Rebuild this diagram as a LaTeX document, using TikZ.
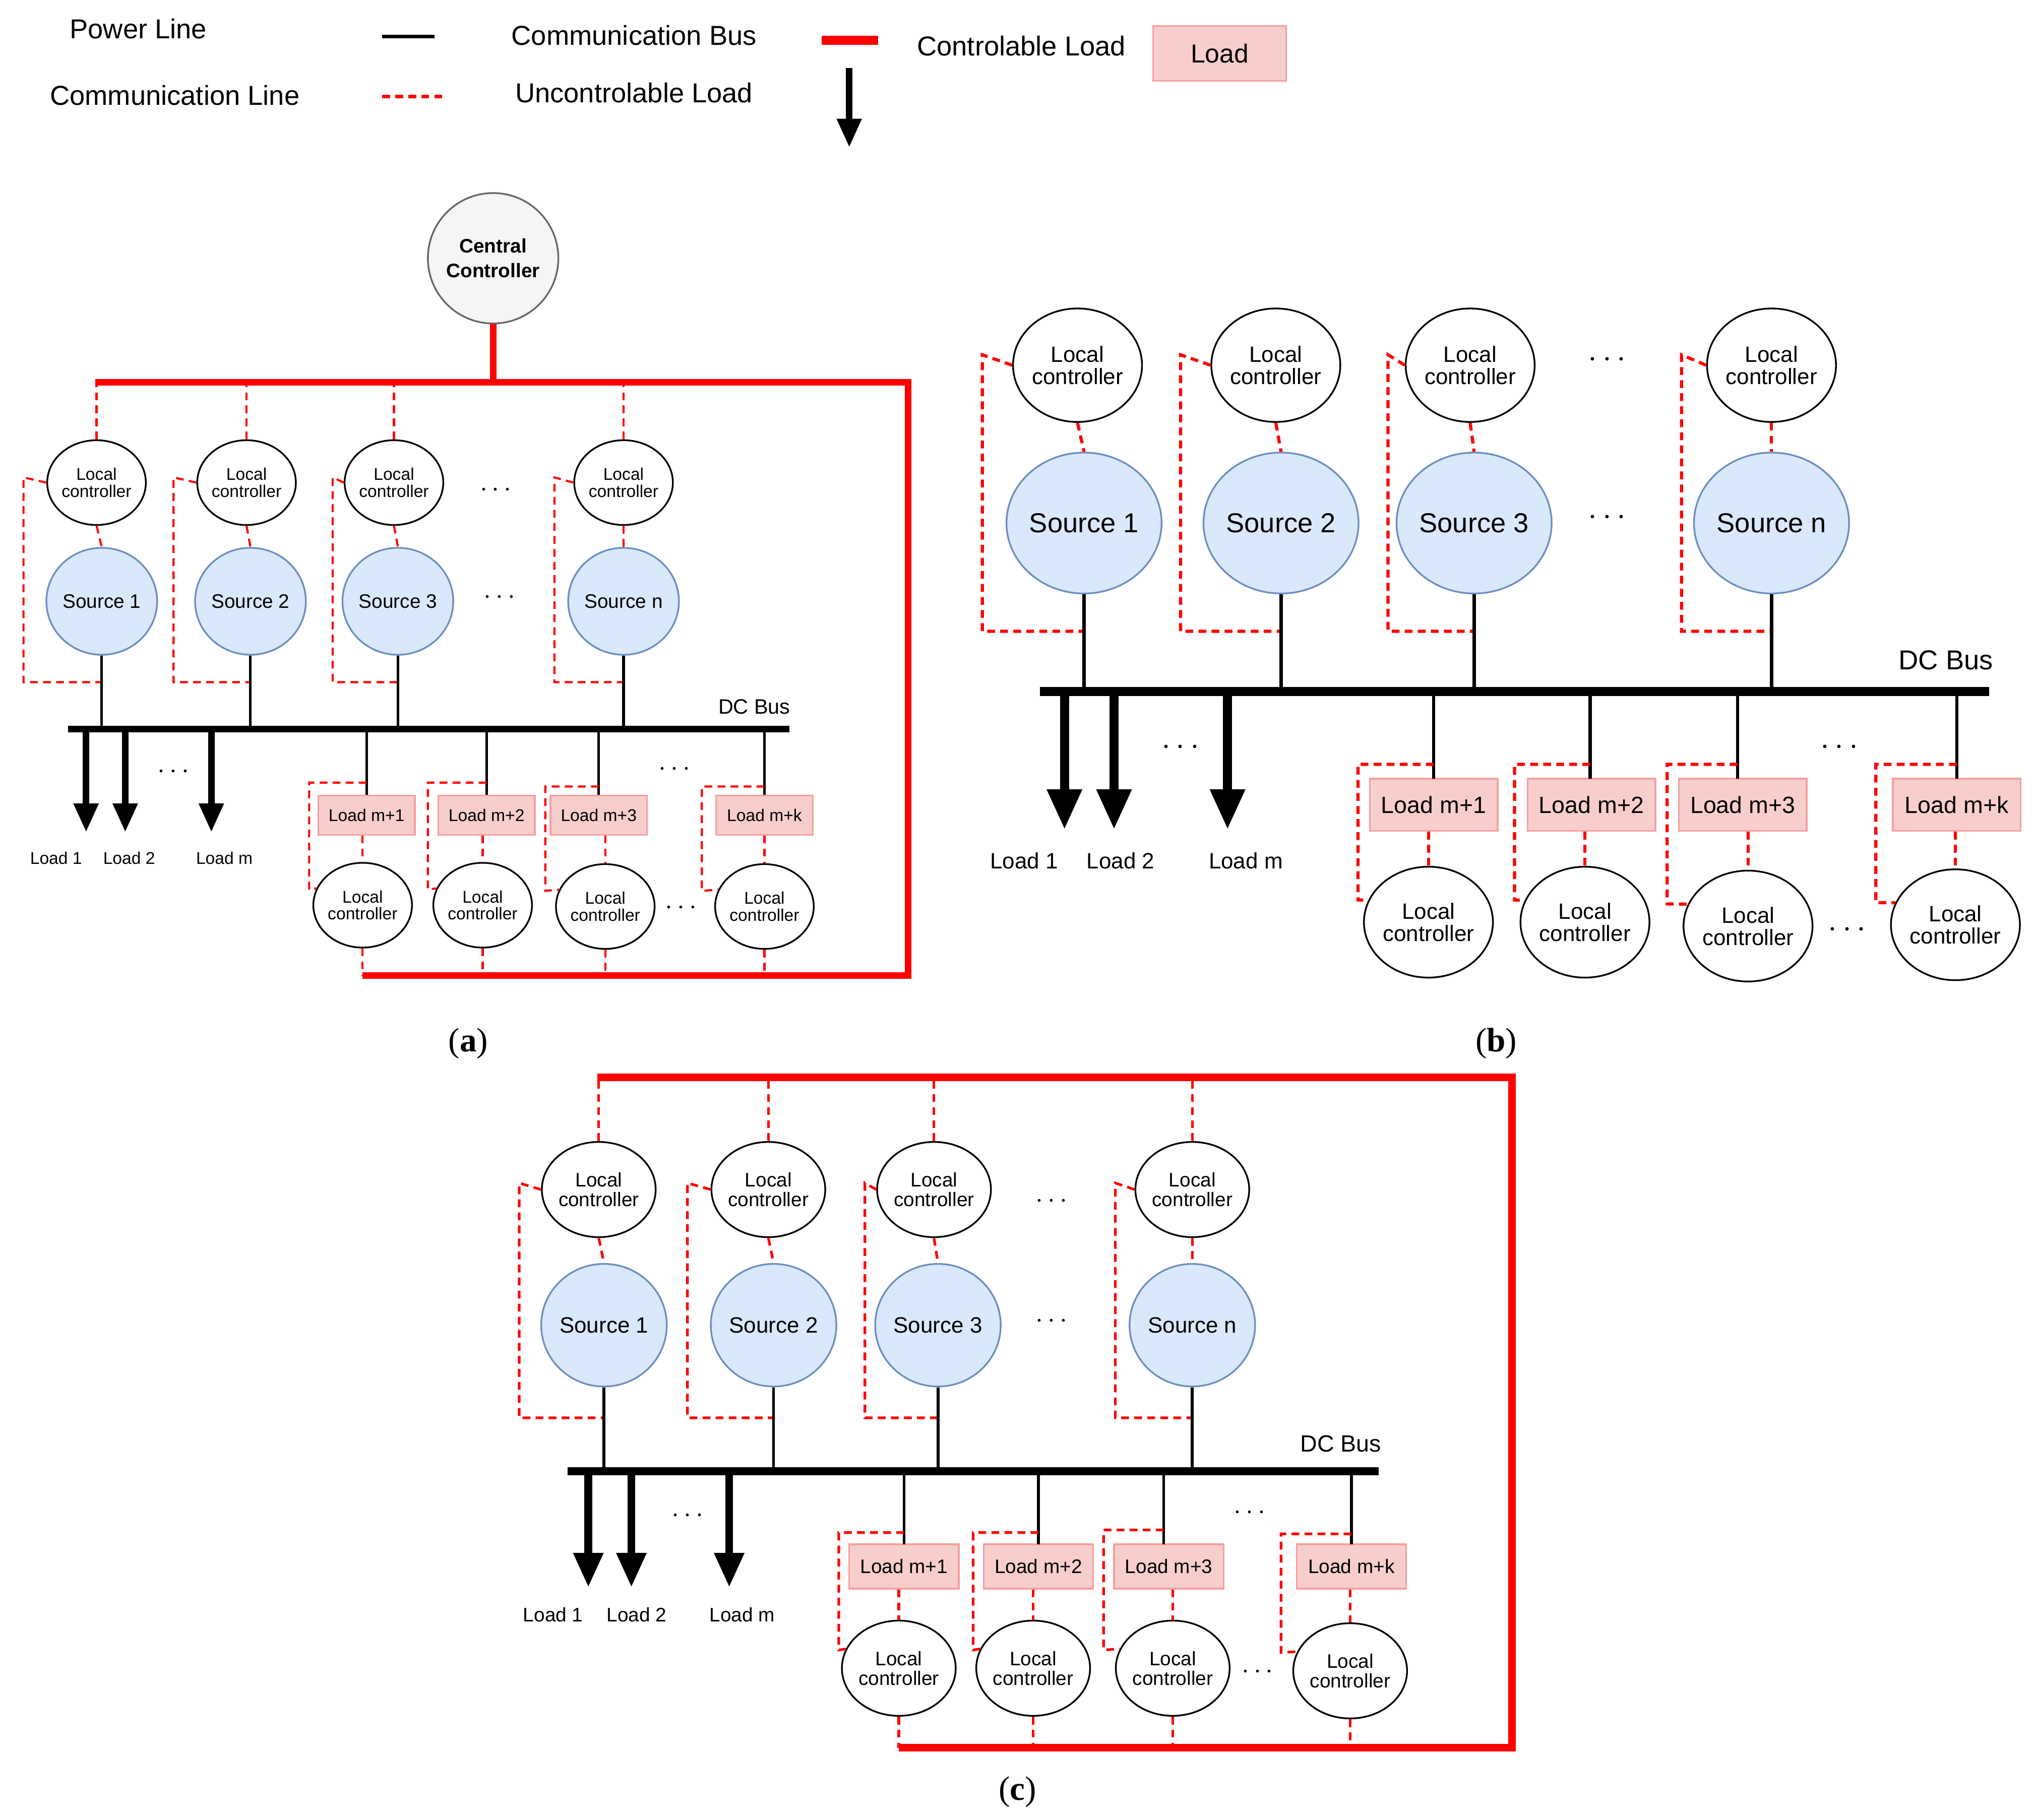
\documentclass[tikz,border=0pt]{standalone}
\usepackage{fontspec}
\setmainfont{Liberation Sans}
\newfontfamily\serifx{Liberation Serif}
\usetikzlibrary{shapes.geometric,arrows.meta}
\definecolor{srcfill}{HTML}{DAE8FC}
\definecolor{srcdraw}{HTML}{6C8EBF}
\definecolor{ldfill}{HTML}{F8CECC}
\definecolor{lddraw}{HTML}{F4A0A0}
\definecolor{ccfill}{HTML}{F5F5F5}
\definecolor{ccdraw}{HTML}{666666}
\definecolor{rd}{HTML}{FF0000}
\tikzset{
 fs/.style={font=\fontsize{#1pt}{#1pt+2pt}\selectfont},
 lc/.style 2 args={ellipse,draw=black,line width=1.3pt,fill=white,minimum width=#1pt,minimum height=#1pt+3pt,inner sep=0pt,align=center,fs=#2},
 src/.style 2 args={ellipse,draw=srcdraw,line width=1.3pt,fill=srcfill,minimum width=#1pt,minimum height=#1pt+2pt,inner sep=0pt,fs=#2},
 ld/.style n args={3}{rectangle,draw=lddraw,line width=1.3pt,fill=ldfill,minimum width=#1pt,minimum height=#2pt,inner sep=0pt,fs=#3},
 comm/.style={draw=rd,line width=#1pt,dash pattern=on 6pt off 4pt},
 pow/.style={draw=black,line width=#1pt},
 bus/.style={draw=black,line width=#1pt},
 rbus/.style={draw=rd,line width=#1pt},
 uload/.style={draw=black,line width=#1pt,-{Triangle[width=#1*3.6pt,length=#1*4.4pt]}},
 txt/.style={inner sep=0pt,fs=#1},
 figcap/.style={inner sep=0pt,font=\serifx\fontsize{26pt}{28pt}\selectfont},
}
\begin{document}
\begin{tikzpicture}[x=1pt,y=-1pt]
\useasboundingbox[fill=white] (0,0) rectangle (1560,1395);
% ---------------- legend
\node[txt=21] (lg1) at (106,22) {Power Line};
\node[txt=21] (lg2) at (134,73) {Communication Line};
\coordinate (lgpa) at (293,28); \coordinate (lgpb) at (333,28);
\draw[pow=3] (lgpa) -- (lgpb);
\coordinate (lgca) at (293,74); \coordinate (lgcb) at (341,74);
\draw[comm=2.4] (lgca) -- (lgcb);
\node[txt=21] (lg3) at (486,27) {Communication Bus};
\node[txt=21] (lg4) at (486,71) {Uncontrolable Load};
\coordinate (lgra) at (630,31); \coordinate (lgrb) at (673,31);
\draw[rbus=7] (lgra) -- (lgrb);
\coordinate (lgua) at (651,52); \coordinate (lgub) at (651,113);
\draw[uload=5] (lgua) -- (lgub);
\node[txt=21] (lg5) at (783,35) {Controlable Load};
\node[ld={102}{42}{20}] (lg6) at (935,41) {Load};

% ================= panel (a)
\node[circle,draw=ccdraw,line width=1.3pt,fill=ccfill,minimum size=100pt,align=center,inner sep=0pt,font=\bfseries\fontsize{15pt}{19pt}\selectfont] (a-cc) at (378,198) {Central\\Controller};
\coordinate (a-rb1) at (73,293); \coordinate (a-rb2) at (696,293);
\coordinate (a-rb3) at (696,748); \coordinate (a-rb4) at (278,748);
\draw[rbus=5] (a-cc.south) -- (a-cc.south |- a-rb1);
\draw[rbus=5,line join=miter] (a-rb1) -- (a-rb2) -- (a-rb3) -- (a-rb4);
\coordinate (a-busL) at (52,559); \coordinate (a-busR) at (605,559);
\draw[bus=5] (a-busL) -- (a-busR);
\node[txt=16,anchor=east] (a-dc) at (606,542) {DC Bus};
\foreach \i/\t/\cx/\sx/\lox in {1/1/74/78/18,2/2/189/192/133,3/3/302/305/255,4/n/478/478/425}{
  \node[lc={62}{13}] (a-lc\i) at (\cx,370) {Local\\controller};
  \node[src={80}{15}] (a-s\i) at (\sx,461) {Source \t};
  \draw[comm=1.6] (a-lc\i.north) -- (a-lc\i.north |- a-rb1);
  \draw[comm=1.6] (a-lc\i.south) -- (a-s\i.north);
  \draw[comm=1.6] (a-lc\i.west) -- (\lox,366) -- (\lox,523) -- (\sx,523);
  \draw[pow=2] (a-s\i.south) -- (a-s\i.south |- a-busL);
}
\node[txt=20] (a-d1) at (380,376) {$\cdots$};
\node[txt=20] (a-d2) at (383,458) {$\cdots$};
\foreach \i/\x/\t/\lx in {1/66/Load 1/43,2/96/Load 2/99,3/162/Load m/172}{
  \coordinate (a-ua\i) at (\x,559); \coordinate (a-ub\i) at (\x,638);
  \draw[uload=5] (a-ua\i) -- (a-ub\i);
  \node[txt=13] (a-ul\i) at (\lx,658) {\t};
}
\node[txt=20] (a-d3) at (133,592) {$\cdots$};
\foreach \i/\t/\lx/\cx/\cy/\llx/\lty in {1/1/281/278/694/237/600,2/2/373/370/694/328/600,3/3/459/464/695/418/603,4/k/586/586/695/538/603}{
  \node[ld={74}{30}{13}] (a-ld\i) at (\lx,625) {Load m+\t};
  \node[lc={62}{13}] (a-llc\i) at (\cx,\cy) {Local\\controller};
  \draw[pow=2] (a-ld\i.north) -- (a-ld\i.north |- a-busL);
  \draw[comm=1.6] (\lx,\lty) -- (\llx,\lty) -- (\llx,\cy-12) -- (a-llc\i.160);
  \draw[comm=1.6] (a-ld\i.south -| a-llc\i.north) -- (a-llc\i.north);
  \draw[comm=1.6] (a-llc\i.south) -- (a-llc\i.south |- a-rb4);
}
\node[txt=20] (a-d4) at (517,590) {$\cdots$};
\node[txt=20] (a-d5) at (522,696) {$\cdots$};
\node[figcap] (a-cap) at (359,800) {(\textbf{a})};

% ================= panel (b)
\coordinate (b-busL) at (797,530); \coordinate (b-busR) at (1525,530);
\draw[bus=7] (b-busL) -- (b-busR);
\node[txt=21,anchor=east] (b-dc) at (1528,506) {DC Bus};
\foreach \i/\t/\cx/\sx/\lox in {1/1/826/831/753,2/2/978/982/905,3/3/1127/1130/1064,4/n/1358/1358/1289}{
  \node[lc={84}{17}] (b-lc\i) at (\cx,280) {Local\\controller};
  \node[src={106}{21}] (b-s\i) at (\sx,401) {Source \t};
  \draw[comm=2.4] (b-lc\i.south) -- (b-s\i.north);
  \draw[comm=2.4] (b-lc\i.west) -- (\lox,272) -- (\lox,484) -- (\sx,484);
  \draw[pow=2.5] (b-s\i.south) -- (b-s\i.south |- b-busL);
}
\node[txt=24] (b-d1) at (1232,276) {$\cdots$};
\node[txt=24] (b-d2) at (1232,397) {$\cdots$};
\foreach \i/\x/\t/\lx in {1/816/Load 1/785,2/854/Load 2/859,3/941/Load m/955}{
  \coordinate (b-ua\i) at (\x,530); \coordinate (b-ub\i) at (\x,636);
  \draw[uload=7] (b-ua\i) -- (b-ub\i);
  \node[txt=17] (b-ul\i) at (\lx,660) {\t};
}
\node[txt=24] (b-d3) at (905,573) {$\cdots$};
\foreach \i/\t/\lx/\bx/\cx/\cy/\llx in {1/1/1099/1099/1095/707/1041,2/2/1219/1220/1215/707/1161,3/3/1332/1336/1340/710/1278,4/k/1500/1500/1499/709/1438}{
  \node[ld={98}{40}{18}] (b-ld\i) at (\bx,617) {Load m+\t};
  \node[lc={82}{17}] (b-llc\i) at (\cx,\cy) {Local\\controller};
  \draw[pow=2.5] (\lx,530) -- (\lx,597);
  \draw[comm=2.4] (\lx,586) -- (\llx,586) -- (\llx,\cy-17) -- (b-llc\i.160);
  \draw[comm=2.4] (b-ld\i.south -| b-llc\i.north) -- (b-llc\i.north);
}
\node[txt=24] (b-d4) at (1410,573) {$\cdots$};
\node[txt=24] (b-d5) at (1416,713) {$\cdots$};
\node[figcap] (b-cap) at (1147,800) {(\textbf{b})};

% ================= panel (c)
\coordinate (c-rb1) at (458,826); \coordinate (c-rb2) at (1159,826);
\coordinate (c-rb3) at (1159,1340); \coordinate (c-rb4) at (689,1340);
\draw[rbus=6,line join=miter] (c-rb1) -- (c-rb2) -- (c-rb3) -- (c-rb4);
\coordinate (c-busL) at (435,1128); \coordinate (c-busR) at (1057,1128);
\draw[bus=6] (c-busL) -- (c-busR);
\node[txt=18,anchor=east] (c-dc) at (1059,1107) {DC Bus};
\foreach \i/\t/\cx/\sx/\lox in {1/1/459/463/398,2/2/589/593/527,3/3/716/719/663,4/n/914/914/855}{
  \node[lc={70}{15}] (c-lc\i) at (\cx,912) {Local\\controller};
  \node[src={92}{17}] (c-s\i) at (\sx,1016) {Source \t};
  \draw[comm=2] (c-lc\i.north) -- (c-lc\i.north |- c-rb1);
  \draw[comm=2] (c-lc\i.south) -- (c-s\i.north);
  \draw[comm=2] (c-lc\i.west) -- (\lox,907) -- (\lox,1087) -- (\sx,1087);
  \draw[pow=2.2] (c-s\i.south) -- (c-s\i.south |- c-busL);
}
\node[txt=22] (c-d1) at (806,921) {$\cdots$};
\node[txt=22] (c-d2) at (806,1013) {$\cdots$};
\foreach \i/\x/\t/\lx in {1/451/Load 1/424,2/484/Load 2/488,3/559/Load m/569}{
  \coordinate (c-ua\i) at (\x,1128); \coordinate (c-ub\i) at (\x,1217);
  \draw[uload=6] (c-ua\i) -- (c-ub\i);
  \node[txt=15] (c-ul\i) at (\lx,1238) {\t};
}
\node[txt=22] (c-d3) at (527,1162) {$\cdots$};
\foreach \i/\t/\lx/\bx/\cx/\cy/\llx/\lty in {1/1/693/693/689/1279/643/1175,2/2/796/796/792/1279/746/1175,3/3/892/896/899/1279/846/1173,4/k/1036/1036/1035/1281/982/1176}{
  \node[ld={84}{34}{15}] (c-ld\i) at (\bx,1201) {Load m+\t};
  \node[lc={70}{15}] (c-llc\i) at (\cx,\cy) {Local\\controller};
  \draw[pow=2.2] (\lx,1128) -- (\lx,1184);
  \draw[comm=2] (\lx,\lty) -- (\llx,\lty) -- (\llx,\cy-14) -- (c-llc\i.160);
  \draw[comm=2] (c-ld\i.south -| c-llc\i.north) -- (c-llc\i.north);
  \draw[comm=2] (c-llc\i.south) -- (c-llc\i.south |- c-rb4);
}
\node[txt=22] (c-d4) at (958,1160) {$\cdots$};
\node[txt=22] (c-d5) at (964,1282) {$\cdots$};
\node[figcap] (c-cap) at (780,1374) {(\textbf{c})};
\end{tikzpicture}
\end{document}
